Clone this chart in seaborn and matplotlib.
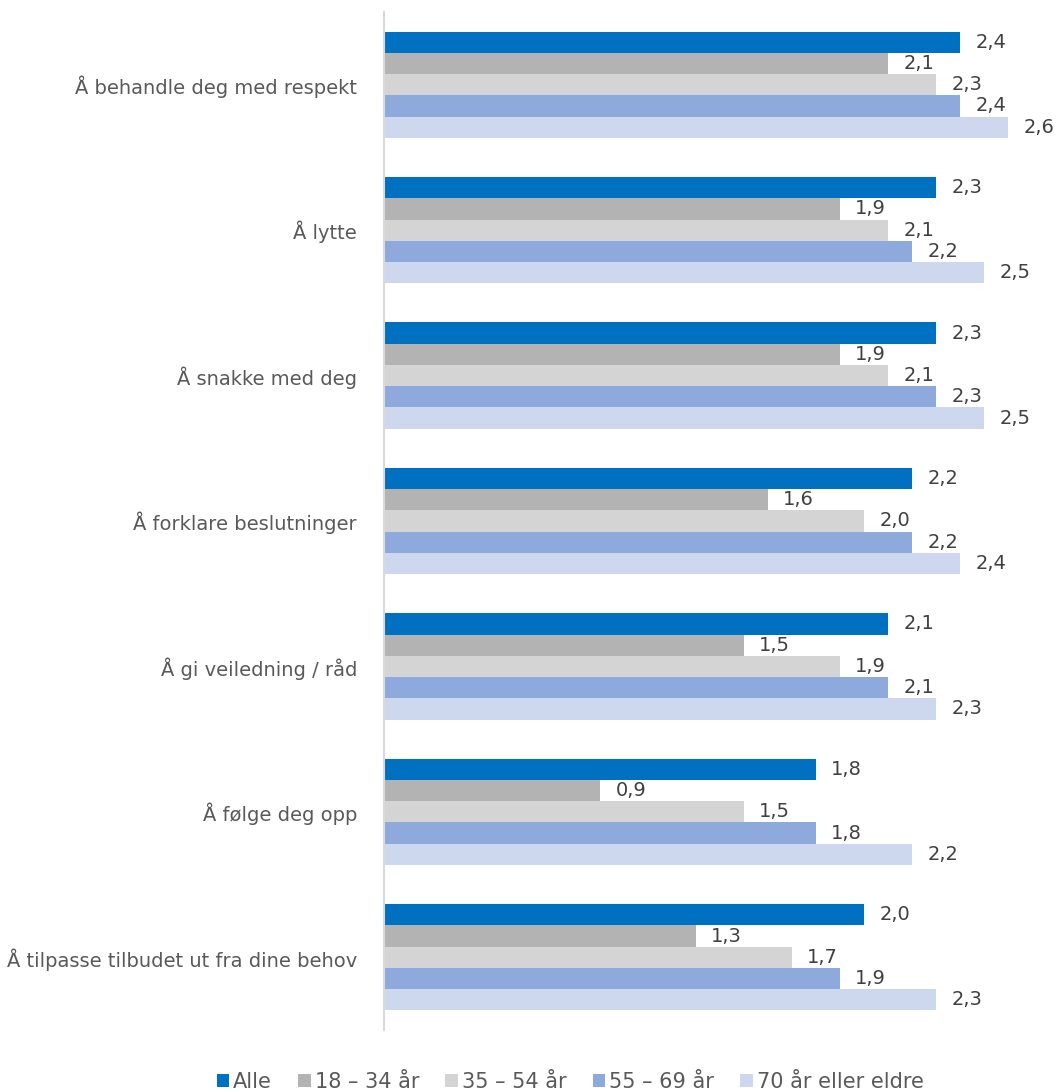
import matplotlib
matplotlib.use("Agg")
import matplotlib.pyplot as plt
import seaborn as sns
import pandas as pd
from matplotlib.patches import Patch

categories = [
    "Å behandle deg med respekt",
    "Å lytte",
    "Å snakke med deg",
    "Å forklare beslutninger",
    "Å gi veiledning / råd",
    "Å følge deg opp",
    "Å tilpasse tilbudet ut fra dine behov",
]
series = ["Alle", "18 – 34 år", "35 – 54 år", "55 – 69 år", "70 år eller eldre"]
alle = [2.4, 2.3, 2.3, 2.2, 2.1, 1.8, 2.0]
age_18_34 = [2.1, 1.9, 1.9, 1.6, 1.5, 0.9, 1.3]
age_35_54 = [2.3, 2.1, 2.1, 2.0, 1.9, 1.5, 1.7]
age_55_69 = [2.4, 2.2, 2.3, 2.2, 2.1, 1.8, 1.9]
age_70 = [2.6, 2.5, 2.5, 2.4, 2.3, 2.2, 2.3]
colors = ["#0070C0", "#B3B3B3", "#D4D4D4", "#8EA9DB", "#CDD8EF"]

values = [alle, age_18_34, age_35_54, age_55_69, age_70]
rows = []
for s, vals in zip(series, values):
    for c, v in zip(categories, vals):
        rows.append({"kategori": c, "gruppe": s, "verdi": v})
df = pd.DataFrame(rows)

sns.set_theme(style="white")
plt.rcParams["font.family"] = ["DejaVu Sans"]

fig = plt.figure(figsize=(10.56, 10.90), dpi=100)
ax = fig.add_axes([384 / 1056, 1 - 1030 / 1090, 1 - 384 / 1056, (1030 - 12) / 1090])

sns.barplot(data=df, y="kategori", x="verdi", hue="gruppe", order=categories,
            hue_order=series, palette=colors, orient="h", width=0.73, gap=0,
            saturation=1, linewidth=0, edgecolor="none", ax=ax, legend=False)

ax.set_xlim(0, 2.8)
ax.set_ylim(6.5, -0.5)
ax.set_xlabel("")
ax.set_ylabel("")
ax.set_xticks([])
for side in ["top", "right", "bottom"]:
    ax.spines[side].set_visible(False)
ax.spines["left"].set_color("#D9D9D9")
ax.spines["left"].set_linewidth(1.5)
ax.tick_params(axis="y", length=0, pad=19.5, labelsize=14, labelcolor="#595959")

for cont in ax.containers:
    labels = [f"{b.get_width():.1f}".replace(".", ",") for b in cont]
    ax.bar_label(cont, labels=labels, padding=11, fontsize=14, color="#404040")

handles = [Patch(facecolor=c, edgecolor="none", label=s) for s, c in zip(series, colors)]
fig.legend(handles=handles, loc="lower center", bbox_to_anchor=(0.54, -0.019), ncol=5,
           frameon=False, fontsize=15, labelcolor="#595959", handlelength=0.6,
           handleheight=0.6, handletextpad=0.2, columnspacing=1.25)

fig.savefig("out.png", dpi=100)
